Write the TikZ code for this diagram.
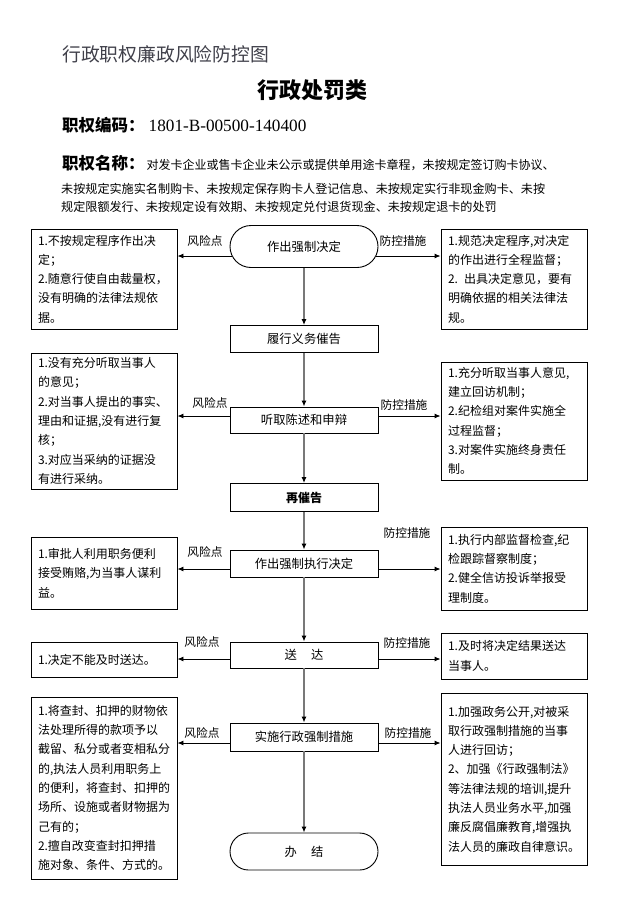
\documentclass[tikz,border=0pt]{standalone}
\usepackage{fontspec}
\setmainfont{Noto Sans CJK SC}
\newfontfamily\tnr{Liberation Serif}
\usetikzlibrary{arrows.meta}
\definecolor{headgray}{RGB}{64,64,74}
\definecolor{vgray}{RGB}{120,120,120}
\begin{document}
\begin{tikzpicture}[x=1pt,y=-1pt,
  box/.style={draw, line width=0.9pt, align=left, inner xsep=7pt, inner ysep=2pt,
    text width=132pt, minimum width=146pt, font=\fontsize{12}{19.3}\selectfont},
  flow/.style={draw, line width=0.9pt, minimum width=148pt, inner sep=2pt,
    font=\fontsize{12.3}{14}\selectfont},
  vline/.style={draw=vgray, line width=1.3pt, -{Latex[length=6pt,width=5pt,color=black]}},
  harrow/.style={draw=black, line width=0.9pt, -{Latex[length=6pt,width=5pt]}},
  lbl/.style={inner sep=0pt, font=\fontsize{11.7}{14}\selectfont}]
\path[use as bounding box] (0,0) rectangle (628,908);

% header
\node[anchor=west, inner sep=0pt, text=headgray, font=\fontsize{18.8}{22}\selectfont] (h1) at (62,54) {行政职权廉政风险防控图};
\node[inner sep=0pt, font=\bfseries\fontsize{22}{26}\selectfont] (h2) at (312,90) {行政处罚类};
\node[anchor=west, inner sep=0pt] (h3) at (62,125) {{\bfseries\fontsize{16.5}{20}\selectfont 职权编码：}\hspace{4pt}{\tnr\fontsize{17.2}{20}\selectfont 1801-B-00500-140400}};
\node[anchor=base west, inner sep=0pt] (h4) at (62,169) {{\bfseries\fontsize{16.5}{20}\selectfont 职权名称：}\hspace{2pt}{\fontsize{12}{14}\selectfont 对发卡企业或售卡企业未公示或提供单用途卡章程，未按规定签订购卡协议、}};
\node[anchor=west, inner sep=0pt, font=\fontsize{12.1}{14}\selectfont] (h5) at (61,189) {未按规定实施实名制购卡、未按规定保存购卡人登记信息、未按规定实行非现金购卡、未按};
\node[anchor=west, inner sep=0pt, font=\fontsize{12.1}{14}\selectfont] (h6) at (61,207) {规定限额发行、未按规定设有效期、未按规定兑付退货现金、未按规定退卡的处罚};

% central flow
\node[flow, minimum height=42pt, rounded corners=21pt] (n1) at (304,246.5) {作出强制决定};
\node[flow, minimum height=27pt] (n2) at (304,339) {履行义务催告};
\node[flow, minimum height=26pt] (n3) at (304,420) {听取陈述和申辩};
\node[flow, minimum height=28pt, font=\bfseries\fontsize{12}{14}\selectfont] (n4) at (304,497.5) {再催告};
\node[flow, minimum height=27pt] (n5) at (304,563.5) {作出强制执行决定};
\node[flow, minimum height=26pt] (n6) at (304,655) {送\hspace{14pt}达};
\node[flow, minimum height=28pt] (n7) at (304,737) {实施行政强制措施};
\node[flow, minimum height=37pt, rounded corners=18.5pt] (n8) at (304,851.5) {办\hspace{14pt}结};

\draw[vline] (n1.south) -- (n2.north);
\draw[vline] (n2.south) -- (n3.north);
\draw[vline] (n3.south) -- (n4.north);
\draw[vline] (n4.south) -- (n5.north);
\draw[vline] (n5.south) -- (n6.north);
\draw[vline] (n6.south) -- (n7.north);
\draw[vline] (n7.south) -- (n8.north);

% left boxes (risk points)
\node[box, minimum height=100pt] (L1) at (104,279) {1.不按规定程序作出决\\定；\\2.随意行使自由裁量权，\\没有明确的法律法规依\\据。};
\node[box, minimum height=136pt] (L2) at (104,421) {1.没有充分听取当事人\\的意见；\\2.对当事人提出的事实、\\理由和证据,没有进行复\\核；\\3.对应当采纳的证据没\\有进行采纳。};
\node[box, minimum height=72pt] (L3) at (104,573) {1.审批人利用职务便利\\接受贿赂,为当事人谋利\\益。};
\node[box, minimum height=35pt] (L4) at (104,659.5) {1.决定不能及时送达。};
\node[box, minimum height=182pt] (L5) at (104,788) {1.将查封、扣押的财物依\\法处理所得的款项予以\\截留、私分或者变相私分\\的,执法人员利用职务上\\的便利，将查封、扣押的\\场所、设施或者财物据为\\己有的；\\2.擅自改变查封扣押措\\施对象、条件、方式的。};

% right boxes (measures)
\node[box, minimum height=100pt] (R1) at (514,279) {1.规范决定程序,对决定\\的作出进行全程监督；\\2. 出具决定意见，要有\\明确依据的相关法律法\\规。};
\node[box, minimum height=118pt] (R2) at (514,421) {1.充分听取当事人意见,\\建立回访机制；\\2.纪检组对案件实施全\\过程监督；\\3.对案件实施终身责任\\制。};
\node[box, minimum height=83pt] (R3) at (514,568.5) {1.执行内部监督检查,纪\\检跟踪督察制度；\\2.健全信访投诉举报受\\理制度。};
\node[box, minimum height=46pt] (R4) at (514,656) {1.及时将决定结果送达\\当事人。};
\node[box, minimum height=172pt] (R5) at (514,779) {1.加强政务公开,对被采\\取行政强制措施的当事\\人进行回访；\\2、加强《行政强制法》\\等法律法规的培训,提升\\执法人员业务水平,加强\\廉反腐倡廉教育,增强执\\法人员的廉政自律意识。};

% horizontal connectors
\coordinate (a1) at ([xshift=2.3pt,yshift=-9.5pt]n1.west);
\coordinate (b1) at ([xshift=-2.3pt,yshift=-9.5pt]n1.east);
\coordinate (a3) at ([yshift=4pt]n3.west);
\coordinate (b3) at ([yshift=4pt]n3.east);
\coordinate (a5) at ([yshift=-5.5pt]n5.west);
\coordinate (b5) at ([yshift=-5.5pt]n5.east);
\coordinate (a6) at ([yshift=-4pt]n6.west);
\coordinate (b6) at ([yshift=-4pt]n6.east);
\coordinate (a7) at ([yshift=-6pt]n7.west);
\coordinate (b7) at ([yshift=-6pt]n7.east);

\draw[harrow] (a1) -- (a1 -| L1.east);
\draw[harrow] (b1) -- (b1 -| R1.west);
\draw[harrow] (a3) -- (a3 -| L2.east);
\draw[harrow] (b3) -- (b3 -| R2.west);
\draw[harrow] (a5) -- (a5 -| L3.east);
\draw[harrow] (b5) -- (b5 -| R3.west);
\draw[harrow] (a6) -- (a6 -| L4.east);
\draw[harrow] (b6) -- (b6 -| R4.west);
\draw[harrow] (a7) -- (a7 -| L5.east);
\draw[harrow] (b7) -- (b7 -| R5.west);

% labels
\node[lbl] (f1) at (205,241) {风险点};
\node[lbl] (f3) at (210,403) {风险点};
\node[lbl] (f5) at (205,552) {风险点};
\node[lbl] (f6) at (202,642) {风险点};
\node[lbl] (f7) at (202,733) {风险点};
\node[lbl] (p1) at (403,241) {防控措施};
\node[lbl] (p3) at (404,405) {防控措施};
\node[lbl] (p5) at (407,533) {防控措施};
\node[lbl] (p6) at (407,643) {防控措施};
\node[lbl] (p7) at (408,733) {防控措施};
\end{tikzpicture}
\end{document}
